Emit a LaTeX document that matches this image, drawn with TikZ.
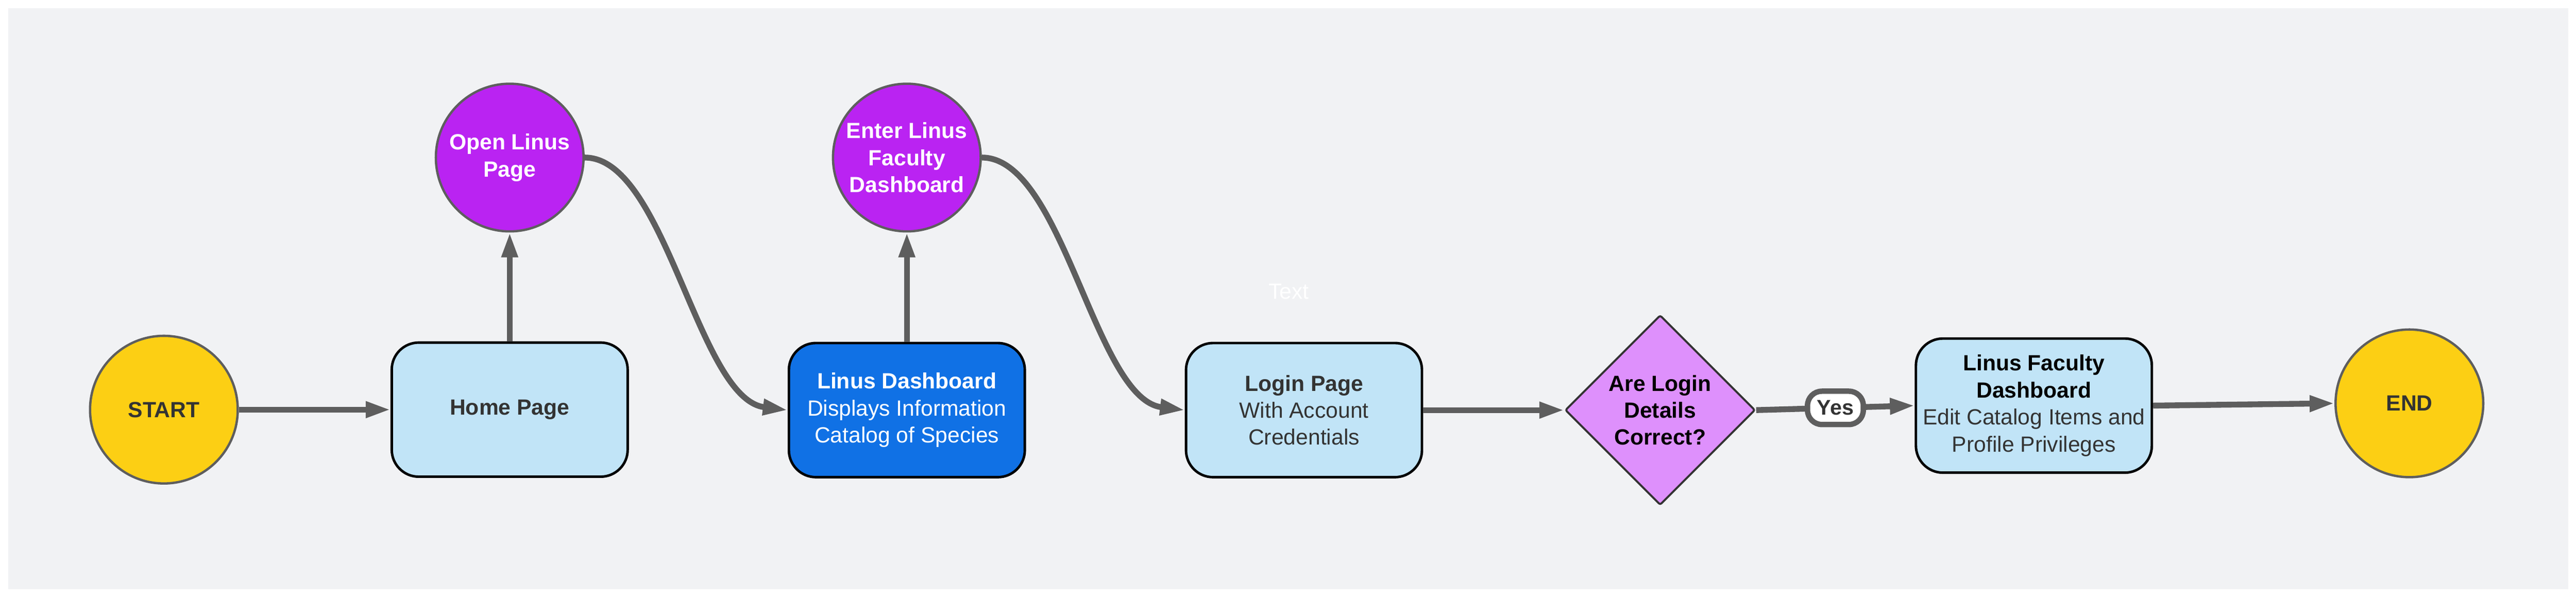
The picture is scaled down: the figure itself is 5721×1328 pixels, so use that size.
\documentclass[tikz,border=0pt]{standalone}
\usepackage{fontspec}
\setmainfont{Liberation Sans}
\usetikzlibrary{shapes.geometric,arrows.meta}
\definecolor{bgc}{HTML}{F1F2F4}
\definecolor{yel}{HTML}{FCCF14}
\definecolor{purp}{HTML}{BA23F2}
\definecolor{lblue}{HTML}{C1E4F7}
\definecolor{dblue}{HTML}{1071E5}
\definecolor{dia}{HTML}{DE90FC}
\definecolor{congray}{HTML}{5E5E5E}
\definecolor{darktext}{HTML}{333333}
\begin{document}
\begin{tikzpicture}[x=0.25pt,y=-0.25pt,
  every node/.style={font=\fontsize{12.2pt}{15pt}\selectfont, align=center, inner sep=0pt},
  bfont/.style={font=\fontsize{12.2pt}{15pt}\selectfont\bfseries},
  termnode/.style={circle, draw=congray, line width=1.3pt, fill=yel, minimum size=82pt, text=darktext, bfont},
  actnode/.style={circle, draw=congray, line width=1.3pt, fill=purp, minimum size=82pt, text=white, bfont},
  boxnode/.style={rectangle, rounded corners=15pt, draw=black, line width=1.4pt, fill=lblue, minimum width=131pt, minimum height=74.5pt, text=darktext},
  dbox/.style={boxnode, fill=dblue, text=white},
  decnode/.style={diamond, draw=darktext, line width=1.1pt, fill=dia, minimum width=105.5pt, minimum height=105.5pt, text=black, bfont, rounded corners=1pt},
  yesbox/.style={rectangle, draw=congray, line width=3pt, fill=white, rounded corners=8pt, minimum width=31pt, minimum height=18.5pt, text=darktext, font=\fontsize{11.8pt}{15pt}\selectfont\bfseries},
  conn/.style={draw=congray, line width=3.25pt, -{Triangle[length=13.75pt,width=8.5pt]}}
]
\useasboundingbox (0,0) rectangle (5721,1328);
\fill[bgc] (18,18) rectangle (5704,1309);

\node[termnode] (start) at (364,910) {START};
\node[boxnode, bfont] (home) at (1132,910) {Home Page};
\node[actnode] (open) at (1132,350) {Open Linus\\Page};
\node[dbox] (dash) at (2014,911) {\textbf{Linus Dashboard}\\Displays Information\\Catalog of Species};
\node[actnode] (enter) at (2014,350) {Enter Linus\\Faculty\\Dashboard};
\node[boxnode] (login) at (2896,911) {\textbf{Login Page}\\With Account\\Credentials};
\node[text=white] (txt) at (2862,648) {Text};
\node[decnode] (decide) at (3687,911) {Are Login\\Details\\Correct?};
\node[boxnode] (fac) at (4517,901) {\textbf{\color{black}Linus Faculty}\\\textbf{\color{black}Dashboard}\\Edit Catalog Items and\\Profile Privileges};
\node[termnode] (end) at (5351,896) {END};

\draw[conn] (start) -- (home);
\draw[conn] (home.north) -- (open.south);
\draw[conn] (dash.north) -- (enter.south);
\draw[conn] (open.east) .. controls +(180,0) and +(-200,-25) .. (dash.west);
\draw[conn] (enter.east) .. controls +(180,0) and +(-200,-25) .. (login.west);
\draw[conn] (login) -- (decide);
\draw[conn] (decide.east) -- node[yesbox] (yes) {Yes} (fac.west);
\draw[conn] (fac.east) -- (end.west);
\end{tikzpicture}
\end{document}
